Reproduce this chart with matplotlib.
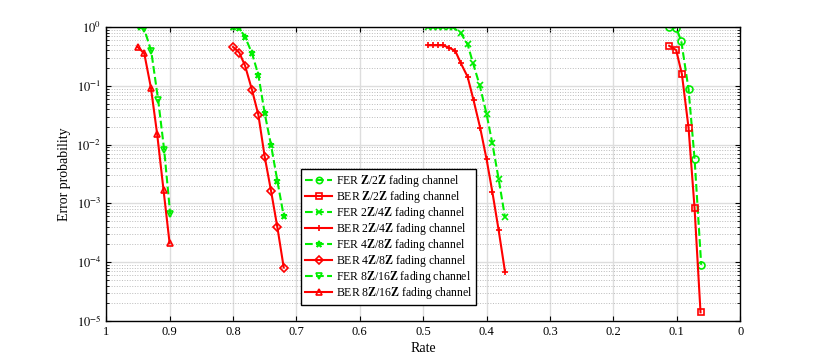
import matplotlib
matplotlib.use('Agg')
import matplotlib.pyplot as plt
import numpy as np

plt.rcParams['font.family'] = ['Liberation Serif', 'DejaVu Serif']
plt.rcParams['mathtext.fontset'] = 'stix'

# Z/2Z
rate_fer_1 = [0.113, 0.101, 0.093, 0.0815, 0.072, 0.0615]
fer_1 = [1.0, 0.97, 0.58, 0.088, 5.8e-3, 9.0e-5]
rate_ber_1 = [0.112, 0.101, 0.092, 0.0815, 0.072, 0.0626]
ber_1 = [0.48, 0.406, 0.159, 0.0194, 8.3e-4, 1.4e-5]

# 2Z/4Z
rate_fer_2 = [0.492, 0.484, 0.476, 0.469, 0.460, 0.453, 0.4405, 0.430, 0.4216,
              0.411, 0.400, 0.391, 0.381, 0.371]
fer_2 = [1.0, 1.0, 1.0, 1.0, 1.0, 0.99, 0.78, 0.51, 0.247, 0.103, 0.033,
         0.0105, 2.6e-3, 5.8e-4]
rate_ber_2 = [0.492, 0.484, 0.476, 0.469, 0.459, 0.4495, 0.4405, 0.430, 0.4206,
              0.410, 0.400, 0.391, 0.381, 0.371]
ber_2 = [0.49, 0.49, 0.49, 0.49, 0.445, 0.395, 0.241, 0.143, 0.057, 0.019,
         5.6e-3, 1.58e-3, 3.5e-4, 6.9e-5]

# 4Z/8Z
rate_fer_3 = [0.800, 0.790, 0.781, 0.770, 0.760, 0.750, 0.740, 0.730, 0.720]
fer_3 = [1.0, 0.95, 0.68, 0.357, 0.153, 0.034, 9.8e-3, 2.4e-3, 6.1e-4]
rate_ber_3 = [0.800, 0.790, 0.781, 0.770, 0.760, 0.750, 0.740, 0.730, 0.720]
ber_3 = [0.46, 0.366, 0.22, 0.085, 0.032, 6.2e-3, 1.63e-3, 3.9e-4, 8.1e-5]

# 8Z/16Z
rate_fer_4 = [0.949, 0.940, 0.929, 0.918, 0.9085, 0.899]
fer_4 = [0.99, 0.925, 0.39, 0.057, 8.0e-3, 6.5e-4]
rate_ber_4 = [0.9506, 0.940, 0.9295, 0.9196, 0.9096, 0.900]
ber_4 = [0.46, 0.357, 0.093, 0.015, 1.69e-3, 2.1e-4]

green = '#00ee00'
red = '#ff0000'

fig = plt.figure(figsize=(8.17, 3.61), dpi=100)
ax = fig.add_axes([0.13, 0.111, 0.776, 0.814])

kw_f = dict(color=green, linestyle='--', linewidth=1.5, markersize=5,
            markerfacecolor='none', markeredgewidth=1.2)
kw_b = dict(color=red, linestyle='-', linewidth=1.5, markersize=5,
            markerfacecolor='none', markeredgewidth=1.2)
Z = r'$\mathbf{Z}$'
ax.semilogy(rate_fer_1, fer_1, marker='o', label='FER ' + Z + '/2' + Z + ' fading channel', **kw_f)
ax.semilogy(rate_ber_1, ber_1, marker='s', label='BER ' + Z + '/2' + Z + ' fading channel', **kw_b)
ax.semilogy(rate_fer_2, fer_2, marker='x', label='FER 2' + Z + '/4' + Z + ' fading channel', **kw_f)
ax.semilogy(rate_ber_2, ber_2, marker='+', label='BER 2' + Z + '/4' + Z + ' fading channel', **kw_b)
ax.semilogy(rate_fer_3, fer_3, marker='*', label='FER 4' + Z + '/8' + Z + ' fading channel', **kw_f)
ax.semilogy(rate_ber_3, ber_3, marker='D', label='BER 4' + Z + '/8' + Z + ' fading channel',
            **dict(kw_b, markersize=4.5))
ax.semilogy(rate_fer_4, fer_4, marker='v', label='FER 8' + Z + '/16' + Z + ' fading channel', **kw_f)
ax.semilogy(rate_ber_4, ber_4, marker='^', label='BER 8' + Z + '/16' + Z + ' fading channel', **kw_b)

ax.set_xlim(1, 0)
ax.set_ylim(1e-5, 1)
ax.set_xticks(np.arange(0, 1.01, 0.1))
ax.set_xticklabels(['0', '0.1', '0.2', '0.3', '0.4', '0.5', '0.6', '0.7', '0.8', '0.9', '1'])
ax.set_yticks([1e-5, 1e-4, 1e-3, 1e-2, 1e-1, 1])
ax.set_yticklabels([r'$10^{-5}$', r'$10^{-4}$', r'$10^{-3}$', r'$10^{-2}$', r'$10^{-1}$', r'$10^{0}$'])
ax.grid(True, which='major', color='#dddddd', linewidth=1.0)
ax.grid(True, which='minor', axis='y', color='#bbbbbb', linestyle=':', linewidth=0.7)
ax.set_axisbelow(True)
ax.tick_params(direction='in', which='both', top=True, right=True, labelsize=9)
for s in ax.spines.values():
    s.set_linewidth(1.0)

ax.set_xlabel('Rate', fontsize=10, labelpad=3)
ax.set_ylabel('Error probability', fontsize=10)

leg = ax.legend(loc='lower left', bbox_to_anchor=(0.307, 0.054), borderaxespad=0,
                fontsize=8.5, frameon=True, fancybox=False, edgecolor='black', framealpha=1,
                handlelength=2.3, labelspacing=0.0, borderpad=0.35, handletextpad=0.3,
                markerscale=0.9)
leg.get_frame().set_linewidth(1.0)

fig.savefig('out.png', dpi=100)
